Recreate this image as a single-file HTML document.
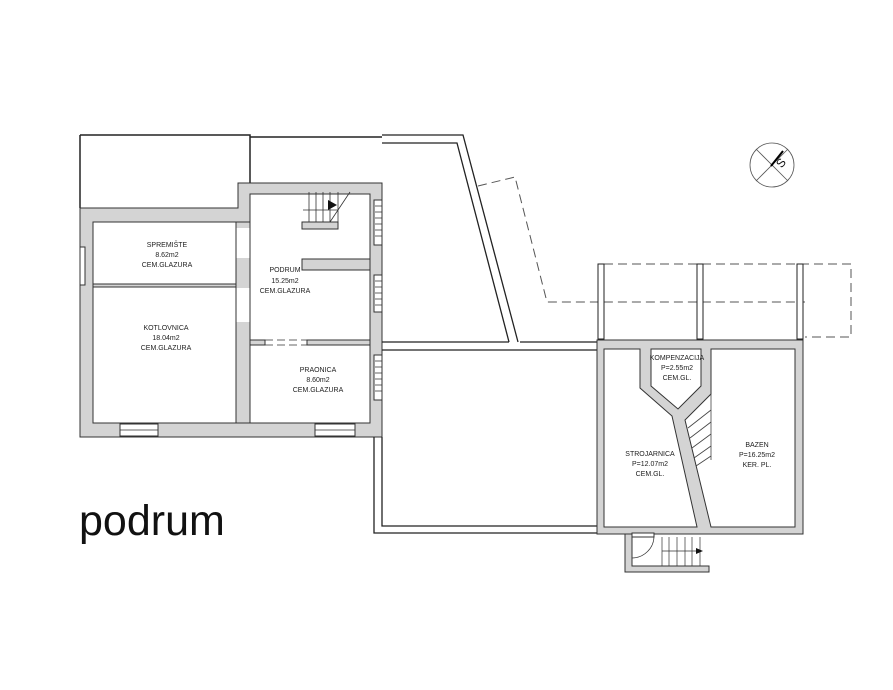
<!DOCTYPE html>
<html><head><meta charset="utf-8"><style>
html,body{margin:0;padding:0;background:#fff;}
svg{display:block;}
text{font-family:"Liberation Sans",sans-serif;}
.l{font-size:7px;text-anchor:middle;fill:#222;}
</style></head><body>
<svg width="893" height="690" viewBox="0 0 893 690" xmlns="http://www.w3.org/2000/svg">
<g stroke="#222" stroke-width="1" fill="none">
<!-- top left thin areas -->
<path d="M80 135 H250 V183 M250 137 H382" stroke-width="1.5"/>
<line x1="80" y1="135" x2="80" y2="208" stroke-width="1.5"/>
</g>
<!-- left building walls -->
<g fill="#d4d4d4" stroke="#333" stroke-width="1">
<path d="M80 208 H238 V183 H382 V437 H80 Z M93 222 V423 H370 V194 H250 V222 Z" fill-rule="evenodd"/>
</g>
<g fill="#fff" stroke="#333" stroke-width="1">
<!-- interior vertical wall and doors -->
<rect x="236" y="222" width="14" height="201" fill="#d4d4d4"/>
<rect x="236.5" y="228" width="13" height="30" stroke="none"/>
<rect x="236.5" y="288" width="13" height="34" stroke="none"/>
<rect x="93" y="284" width="143" height="3" fill="#d4d4d4"/>
<rect x="250" y="340" width="15" height="5" fill="#d4d4d4"/>
<rect x="307" y="340" width="63" height="5" fill="#d4d4d4"/>
<rect x="302" y="259" width="68" height="11" fill="#d4d4d4"/>
<rect x="302" y="222" width="36" height="7" fill="#d4d4d4"/>
<!-- windows -->
<rect x="374" y="200" width="8" height="45"/>
<rect x="374" y="275" width="8" height="37"/>
<rect x="374" y="355" width="8" height="45"/>
<rect x="120" y="424" width="38" height="12"/>
<rect x="315" y="424" width="40" height="12"/>
<rect x="80" y="247" width="5" height="38"/>
</g>
<g stroke="#333" stroke-width="0.8" fill="none">
<path d="M236 228 V258 M250 228 V258 M236 288 V322 M250 288 V322" stroke-dasharray="6 4"/>
<path d="M265 340 H307 M265 345 H307" stroke-dasharray="8 4"/>
<path d="M375 206 H382 M375 212 H382 M375 218 H382 M375 224 H382 M375 230 H382 M375 236 H382 M375 281 H382 M375 287 H382 M375 293 H382 M375 299 H382 M375 305 H382 M375 361 H382 M375 367 H382 M375 373 H382 M375 379 H382 M375 385 H382 M375 391 H382"/>
<path d="M120 430 H158 M315 430 H355"/>
<!-- stairs podrum -->
<path d="M309 192 V222 M316 192 V222 M323 192 V222 M330 192 V222 M338 192 V222 M303 210 H338 M330 222 L350 192"/>
</g>
<polygon points="328,200 337,205 328,210" fill="#111"/>
<!-- middle trapezoid -->
<g stroke="#222" stroke-width="1.3" fill="none">
<path d="M382 135 H463 L518 342"/>
<path d="M382 143 H457 L509 342"/>
<path d="M382 342 H509 M520 342 H597 M382 350 H597"/>
<path d="M382 437 V526 H597 M374 437 V533 H600"/>
</g>
<!-- dashed -->
<g stroke="#555" stroke-width="1" fill="none" stroke-dasharray="9 5">
<path d="M478 186 L515 177 L547 302 H805"/>
<path d="M604 264 H851 V337 H805"/>
</g>
<g fill="#fff" stroke="#222" stroke-width="1">
<rect x="598" y="264" width="6" height="75"/>
<rect x="697" y="264" width="6" height="75"/>
<rect x="797" y="264" width="6" height="75"/>
</g>
<!-- right building -->
<rect x="597" y="340" width="206" height="194" fill="#d4d4d4" stroke="#333"/>
<g fill="#fff" stroke="#333" stroke-width="1">
<polygon points="604,349 640,349 640,388 672,416 697,527 604,527"/>
<polygon points="651,349 701,349 701,386 678,409 651,386"/>
<polygon points="711,349 795,349 795,527 711,527 685,420 711,394"/>
</g>
<g stroke="#444" stroke-width="0.8" fill="none">
<path d="M688 428 L711 410 M690 438 L711 422 M692 448 L711 434 M694 458 L711 446 M696 466 L711 456"/>
<line x1="711" y1="394" x2="711" y2="460"/>
</g>
<!-- entrance stair -->
<g stroke="#333" stroke-width="1">
<path d="M625 534 H632 V566 H709 V572 H625 Z" fill="#d4d4d4"/>
<rect x="632" y="533" width="22" height="4" fill="#fff"/>
<path d="M632 558 A22 22 0 0 0 654 536" fill="none" stroke-width="0.7"/>
<path d="M662 537 V566 M669 537 V566 M677 537 V566 M685 537 V566 M692 537 V566 M700 537 V566 M662 551 H700" fill="none" stroke-width="0.7"/>
</g>
<polygon points="696,548 703,551 696,554" fill="#111"/>
<!-- compass -->
<g stroke="#555" stroke-width="0.8" fill="none">
<circle cx="772" cy="165" r="22"/>
<line x1="756" y1="149" x2="788" y2="181"/>
<line x1="756" y1="181" x2="788" y2="149"/>
</g>
<line x1="771" y1="166" x2="783" y2="151" stroke="#000" stroke-width="2"/>
<text x="781" y="167" font-size="12" transform="rotate(-50 781 163)" text-anchor="middle" fill="#111">S</text>
<!-- labels -->
<text class="l" x="167" y="247">SPREMIŠTE</text>
<text class="l" x="167" y="257">8.62m2</text>
<text class="l" x="167" y="267">CEM.GLAZURA</text>
<text class="l" x="166" y="330">KOTLOVNICA</text>
<text class="l" x="166" y="340">18.04m2</text>
<text class="l" x="166" y="350">CEM.GLAZURA</text>
<text class="l" x="285" y="272">PODRUM</text>
<text class="l" x="285" y="283">15.25m2</text>
<text class="l" x="285" y="293">CEM.GLAZURA</text>
<text class="l" x="318" y="372">PRAONICA</text>
<text class="l" x="318" y="382">8.60m2</text>
<text class="l" x="318" y="392">CEM.GLAZURA</text>
<text class="l" x="677" y="360">KOMPENZACIJA</text>
<text class="l" x="677" y="370">P=2.55m2</text>
<text class="l" x="677" y="380">CEM.GL.</text>
<text class="l" x="650" y="456">STROJARNICA</text>
<text class="l" x="650" y="466">P=12.07m2</text>
<text class="l" x="650" y="476">CEM.GL.</text>
<text class="l" x="757" y="447">BAZEN</text>
<text class="l" x="757" y="457">P=16.25m2</text>
<text class="l" x="757" y="467">KER. PL.</text>
<text x="79" y="535" font-size="43" fill="#111">podrum</text>
</svg>
</body></html>
